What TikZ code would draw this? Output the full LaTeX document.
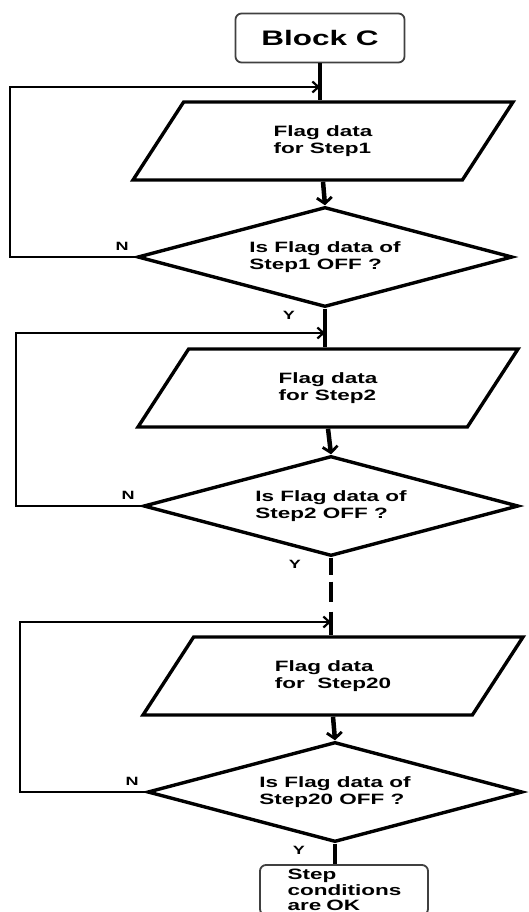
\documentclass[tikz,border=0pt]{standalone}
\usepackage{fontspec}
\setmainfont{Liberation Sans}[FakeStretch=1.5]
\usetikzlibrary{positioning,shapes.geometric,arrows.meta}
\tikzset{startbox/.style={draw=black!75,line width=1.8pt,rounded corners=6pt,minimum width=169pt,minimum height=49pt,font=\bfseries\fontsize{21}{24}\selectfont},
  databox/.style={draw,line width=3.4pt,trapezium,trapezium left angle=37,trapezium right angle=143,trapezium stretches body,minimum width=380pt,minimum height=78pt,align=left,font=\bfseries\fontsize{15}{17.5}\selectfont},
  decbox/.style={draw,line width=3.4pt,diamond,aspect=3.75,minimum width=375pt,minimum height=100pt,inner sep=0pt,align=left,font=\bfseries\fontsize{15}{17.5}\selectfont},
  endbox/.style={draw=black!75,line width=1.8pt,rounded corners=6pt,minimum width=168pt,minimum height=50pt,text width=113pt,align=left,font=\bfseries\fontsize{15}{15.5}\selectfont},
  lbl/.style={inner sep=0pt,font=\bfseries\fontsize{12}{12}\selectfont},
  spine/.style={line width=4.5pt},
  tospine/.style={-{Straight Barb[length=6pt,width=15pt,line width=2.8pt]}},
  loopline/.style={line width=2.6pt,-{Straight Barb[length=6pt,width=11pt,line width=2.2pt]}}
}

\begin{document}
\begin{tikzpicture}[x=1pt,y=-1pt]
  \useasboundingbox (0,0) rectangle (528,912);

  % Start
    \node[startbox] (blockC) at (320,38) {Block C};

    % Step 1
    \node[databox] (data1) at (323,141) {Flag data\\for Step1};
    \node[decbox] (dec1) at (325,257) {Is Flag data of\\Step1 OFF ?};

    % Step 2
    \node[databox] (data2) at (328,388) {Flag data\\for Step2};
    \node[decbox] (dec2) at (331,506) {Is Flag data of\\Step2 OFF ?};

    % Step 20
    \node[databox] (data3) at (333,676) {Flag data\\for\ \ Step20};
    \node[decbox] (dec3) at (335,792) {Is Flag data of\\Step20 OFF ?};

    % End
    \node[endbox] (done) at (344,890) {Step\\conditions\\are OK};

    % Branch labels
    \node[lbl, above left=6pt and 7pt of dec1.west] (n1) {N};
    \node[lbl, below left=2pt and 30pt of dec1.south] (y1) {Y};
    \node[lbl, above left=6pt and 7pt of dec2.west] (n2) {N};
    \node[lbl, below left=2pt and 30pt of dec2.south] (y2) {Y};
    \node[lbl, above left=6pt and 7pt of dec3.west] (n3) {N};
    \node[lbl, below left=2pt and 30pt of dec3.south] (y3) {Y};

    % Junctions on the main line
    \coordinate (j1) at (320,87);
    \coordinate (j2) at (325,333);
    \coordinate (j3) at (331,622);

    % Main line
    \draw[spine] (blockC.south) -- (blockC.south |- data1.north);
    \draw[spine,tospine] (data1.south) -- (dec1.north);
    \draw[spine] (dec1.south) -- (dec1.south |- data2.north);
    \draw[spine,tospine] (data2.south) -- (dec2.north);
    \draw[spine,dash pattern=on 17pt off 7pt on 20pt off 10pt on 60pt] (dec2.south) -- (dec2.south |- data3.north);
    \draw[spine,tospine] (data3.south) -- (dec3.north);
    \draw[spine] (dec3.south) -- (dec3.south |- done.north);

    % Loops back (N)
    \draw[loopline] (dec1.west) -- ++(-126,0) |- (j1);
    \draw[loopline] (dec2.west) -- ++(-126,0) |- (j2);
    \draw[loopline] (dec3.west) -- ++(-126,0) |- (j3);

  \end{tikzpicture}
\end{document}
